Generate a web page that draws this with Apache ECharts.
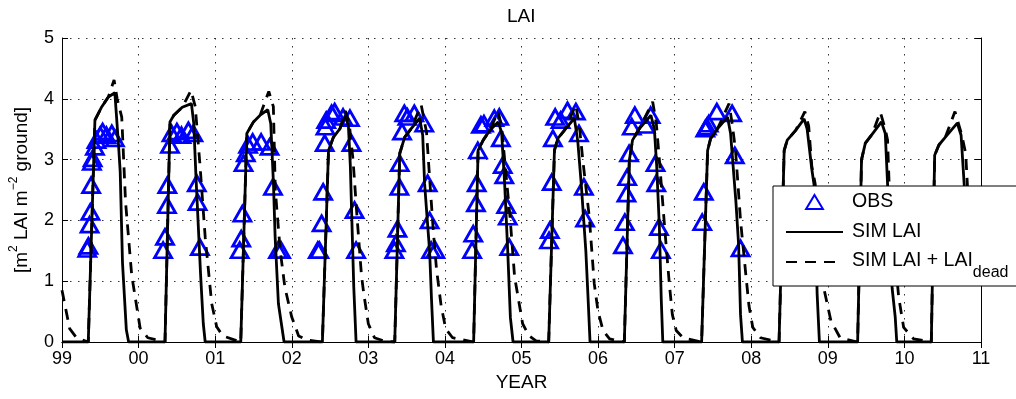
<!DOCTYPE html>
<html>
<head>
<meta charset="utf-8">
<title>LAI</title>
<script src="https://cdn.jsdelivr.net/npm/echarts@6/dist/echarts.min.js"></script>
<style>
  html, body { margin: 0; padding: 0; background: #fff; }
  #main { width: 1016px; height: 399px; }
</style>
</head>
<body>
<div id="main"></div>
<script>
// x is the decimal year, ticks labelled 99, 00 ... 11
var yearMin = 1999, yearMax = 2011;
var laiMin = 0, laiMax = 5;

// observed LAI (blue triangles), [year, LAI]
var obs = [
  [1999.33,1.53],[1999.345,1.58],[1999.36,1.93],[1999.37,2.14],[1999.38,2.58],[1999.39,2.96],[1999.40,3.02],
  [1999.43,3.21],[1999.45,3.32],[1999.50,3.40],[1999.53,3.46],[1999.58,3.40],[1999.65,3.43],[1999.69,3.35],
  [2000.32,1.51],[2000.345,1.73],[2000.37,2.25],[2000.375,2.58],[2000.41,3.24],[2000.43,3.43],[2000.50,3.46],
  [2000.56,3.40],[2000.65,3.48],[2000.715,3.43],[2000.76,2.61],[2000.77,2.30],[2000.80,1.56],
  [2001.32,1.51],[2001.34,1.70],[2001.355,2.11],[2001.37,2.94],[2001.40,3.10],[2001.43,3.24],[2001.49,3.29],
  [2001.60,3.29],[2001.71,3.21],[2001.755,2.55],[2001.82,1.51],[2001.86,1.51],
  [2002.34,1.51],[2002.36,1.51],[2002.39,1.95],[2002.41,2.47],[2002.43,3.27],[2002.44,3.54],[2002.45,3.65],
  [2002.52,3.76],[2002.56,3.79],[2002.67,3.70],[2002.76,3.68],[2002.78,3.27],[2002.82,2.17],[2002.84,1.51],
  [2003.34,1.51],[2003.36,1.62],[2003.38,1.86],[2003.405,2.55],[2003.41,2.94],[2003.44,3.46],[2003.47,3.76],
  [2003.51,3.70],[2003.60,3.76],[2003.73,3.59],[2003.775,2.61],[2003.80,2.00],[2003.82,1.51],[2003.875,1.51],
  [2004.355,1.51],[2004.37,1.78],[2004.405,2.28],[2004.415,2.61],[2004.43,3.15],[2004.47,3.57],[2004.51,3.59],
  [2004.645,3.68],[2004.71,3.70],[2004.73,3.35],[2004.755,2.91],[2004.775,2.74],[2004.80,2.25],[2004.82,2.06],[2004.84,1.56],
  [2005.36,1.67],[2005.37,1.84],[2005.395,2.63],[2005.41,3.35],[2005.44,3.70],[2005.51,3.65],[2005.60,3.81],
  [2005.71,3.79],[2005.75,3.43],[2005.815,2.55],[2005.83,2.03],
  [2006.325,1.59],[2006.35,1.97],[2006.37,2.44],[2006.38,2.71],[2006.405,3.10],[2006.44,3.54],[2006.48,3.73],
  [2006.62,3.57],[2006.687,3.73],[2006.75,2.94],[2006.76,2.61],[2006.795,1.89],[2006.82,1.51],
  [2007.36,1.97],[2007.38,2.47],[2007.40,3.51],[2007.42,3.54],[2007.445,3.59],[2007.55,3.79],[2007.75,3.76],
  [2007.785,3.07],[2007.86,1.54]
];

// simulated LAI (solid line)
var simLai = [
  [1999.0,0],[1999.343,0],[1999.43,3.65],[1999.52,3.87],[1999.605,4.03],[1999.69,4.10],[1999.74,3.2],[1999.76,2.8],[1999.79,1.3],[1999.84,0.2],[1999.87,0],
  [2000.345,0],[2000.41,3.62],[2000.46,3.73],[2000.57,3.86],[2000.69,3.92],[2000.72,3.6],[2000.75,2.7],[2000.81,1.1],[2000.845,0.3],[2000.87,0],
  [2001.334,0],[2001.413,3.43],[2001.50,3.62],[2001.587,3.73],[2001.687,3.82],[2001.726,3.59],[2001.761,2.61],[2001.783,1.73],[2001.826,0.63],[2001.90,0],
  [2002.40,0],[2002.48,3.15],[2002.545,3.37],[2002.63,3.51],[2002.70,3.73],[2002.74,3.55],[2002.765,2.9],[2002.785,2.0],[2002.81,0.9],[2002.84,0],
  [2003.345,0],[2003.41,3.1],[2003.475,3.37],[2003.56,3.51],[2003.67,3.68],[2003.71,3.4],[2003.735,2.6],[2003.77,2.0],[2003.80,1.5],[2003.825,0.7],[2003.85,0],
  [2004.375,0],[2004.433,3.15],[2004.50,3.32],[2004.585,3.48],[2004.695,3.62],[2004.74,3.45],[2004.78,2.6],[2004.82,1.5],[2004.855,0.4],[2004.89,0],
  [2005.355,0],[2005.43,3.15],[2005.475,3.35],[2005.56,3.48],[2005.69,3.68],[2005.735,3.3],[2005.78,2.6],[2005.84,1.5],[2005.87,0.7],[2005.895,0],
  [2006.343,0],[2006.408,2.99],[2006.45,3.32],[2006.54,3.51],[2006.69,3.73],[2006.735,3.5],[2006.765,2.9],[2006.80,1.9],[2006.825,0.7],[2006.845,0],
  [2007.352,0],[2007.43,3.15],[2007.47,3.35],[2007.56,3.51],[2007.69,3.70],[2007.73,3.43],[2007.80,2.3],[2007.835,1.6],[2007.86,0.45],[2007.885,0],
  [2008.363,0],[2008.43,3.15],[2008.47,3.32],[2008.58,3.48],[2008.69,3.67],[2008.73,3.5],[2008.79,2.85],[2008.83,2.5],[2008.86,0.8],[2008.89,0],
  [2009.389,0],[2009.44,3.0],[2009.49,3.27],[2009.58,3.42],[2009.70,3.62],[2009.75,3.43],[2009.78,2.6],[2009.81,1.7],[2009.84,0.88],[2009.88,0.41],[2009.90,0],
  [2010.351,0],[2010.395,3.07],[2010.45,3.24],[2010.535,3.37],[2010.69,3.60],[2010.74,3.4],[2010.78,2.6],[2010.80,2.2]
];

// simulated LAI + dead LAI (dashed line)
var simLaiDead = [
  [1999.0,0.85],[1999.1,0.22],[1999.19,0.07],[1999.343,0],[1999.43,3.65],[1999.52,3.87],[1999.605,4.03],[1999.68,4.31],[1999.72,4.0],[1999.78,3.7],[1999.83,2.3],[1999.91,1.1],[2000.02,0.23],[2000.12,0.07],
  [2000.345,0],[2000.41,3.62],[2000.46,3.73],[2000.57,3.86],[2000.685,4.14],[2000.74,3.87],[2000.80,2.94],[2000.87,1.72],[2000.955,0.63],[2001.02,0.25],[2001.1,0.1],
  [2001.334,0],[2001.413,3.43],[2001.50,3.62],[2001.587,3.73],[2001.65,3.95],[2001.70,4.12],[2001.76,3.87],[2001.785,2.5],[2001.85,1.5],[2001.91,0.9],[2002.0,0.41],[2002.09,0.1],[2002.2,0.03],
  [2002.40,0],[2002.48,3.15],[2002.545,3.37],[2002.63,3.51],[2002.70,3.80],[2002.75,3.6],[2002.80,3.0],[2002.85,2.1],[2002.91,1.1],[2002.94,0.8],[2003.0,0.3],[2003.08,0.07],[2003.2,0.02],
  [2003.345,0],[2003.41,3.1],[2003.475,3.37],[2003.56,3.51],[2003.69,3.9],[2003.76,3.45],[2003.80,2.7],[2003.85,1.8],[2003.89,1.2],[2003.95,0.6],[2004.01,0.22],[2004.1,0.07],
  [2004.375,0],[2004.433,3.15],[2004.50,3.32],[2004.585,3.48],[2004.695,3.79],[2004.74,3.55],[2004.78,3.0],[2004.85,2.06],[2004.91,1.07],[2004.97,0.63],[2005.015,0.3],[2005.10,0.1],[2005.19,0.02],
  [2005.355,0],[2005.43,3.15],[2005.475,3.35],[2005.56,3.48],[2005.71,3.9],[2005.76,3.5],[2005.80,3.0],[2005.885,2.06],[2005.95,0.96],[2006.0,0.5],[2006.065,0.19],[2006.15,0.05],
  [2006.343,0],[2006.408,2.99],[2006.45,3.32],[2006.54,3.51],[2006.713,3.95],[2006.76,3.6],[2006.80,3.0],[2006.865,1.95],[2006.93,0.96],[2006.97,0.45],[2007.02,0.19],[2007.11,0.07],
  [2007.352,0],[2007.43,3.15],[2007.47,3.35],[2007.56,3.51],[2007.71,3.92],[2007.75,3.6],[2007.795,3.15],[2007.86,2.0],[2007.93,1.1],[2007.97,0.6],[2008.02,0.24],[2008.12,0.07],
  [2008.363,0],[2008.43,3.15],[2008.47,3.32],[2008.58,3.48],[2008.70,3.79],[2008.75,3.55],[2008.79,2.9],[2008.835,2.6],[2008.90,1.5],[2008.945,0.9],[2009.04,0.35],[2009.16,0.07],
  [2009.389,0],[2009.44,3.0],[2009.49,3.27],[2009.58,3.42],[2009.685,3.78],[2009.75,3.5],[2009.78,3.32],[2009.80,2.61],[2009.87,1.5],[2009.925,0.74],[2009.99,0.24],[2010.12,0.05],
  [2010.351,0],[2010.395,3.07],[2010.45,3.24],[2010.535,3.37],[2010.66,3.79],[2010.75,3.4],[2010.80,3.1],[2010.83,2.4]
];

var font = 'Liberation Sans, Arial, Helvetica, sans-serif';
var triPath = 'path://M9,0L18,15L0,15Z';

var myChart = echarts.init(document.getElementById('main'), null, { renderer: 'canvas' });

function yearLabel(v) {
  var y = Math.round(v) % 100;
  return (y < 10 ? '0' : '') + y;
}

var gridLine = { show: true, lineStyle: { color: '#333', width: 1, type: [1.5, 6.5] } };
// line series: no visible symbol, also not in the legend icon
var noMark = { color: 'rgba(0,0,0,0)', borderWidth: 0, borderColor: 'rgba(0,0,0,0)' };

myChart.setOption({
  animation: false,
  backgroundColor: '#fff',
  title: {
    text: 'LAI', left: 507, top: 7, padding: 0,
    textStyle: { fontFamily: font, fontSize: 19, fontWeight: 'normal', color: '#000' }
  },
  grid: { left: 61, right: 35, top: 38, bottom: 57 },
  legend: {
    orient: 'vertical', left: 773, top: 186,
    padding: [5, 14, 5, 12], itemGap: 8, itemWidth: 57, itemHeight: 14,
    backgroundColor: '#fff', borderColor: '#000', borderWidth: 1, borderRadius: 0,
    selectedMode: false,
    data: ['OBS', 'SIM LAI', 'SIM LAI + LAI_dead'],
    formatter: function (name) {
      return name === 'SIM LAI + LAI_dead' ? '{m|SIM LAI + LAI}{sub|dead}' : name;
    },
    textStyle: {
      fontFamily: font, fontSize: 19.5, color: '#000', lineHeight: 22, padding: [0, 0, 0, 4],
      rich: {
        m: { fontFamily: font, fontSize: 19.5, lineHeight: 22, verticalAlign: 'top', color: '#000' },
        sub: { fontFamily: font, fontSize: 16, lineHeight: 16, verticalAlign: 'top', padding: [14, 0, 0, 0], color: '#000' }
      }
    }
  },
  xAxis: [{
    type: 'value', min: yearMin, max: yearMax, interval: 1,
    name: 'YEAR', nameLocation: 'middle', nameGap: 31,
    nameTextStyle: { fontFamily: font, fontSize: 19, color: '#000' },
    axisLine: { lineStyle: { color: '#000', width: 1 } },
    axisTick: { inside: true, length: 6, lineStyle: { color: '#000' } },
    axisLabel: { formatter: yearLabel, fontFamily: font, fontSize: 18, color: '#000', margin: 8 },
    splitLine: gridLine
  }, {
    type: 'value', position: 'top', min: yearMin, max: yearMax, interval: 1,
    axisLine: { show: true, lineStyle: { color: '#000', width: 1 } },
    axisTick: { inside: true, length: 6, lineStyle: { color: '#000' } },
    axisLabel: { show: false }, splitLine: { show: false }
  }],
  yAxis: [{
    type: 'value', min: laiMin, max: laiMax, interval: 1,
    name: '[m{sup|2} LAI m{sup|−2} ground]', nameLocation: 'middle', nameGap: 27,
    nameTextStyle: {
      fontFamily: font, fontSize: 19, color: '#000',
      rich: {
        sup: { fontFamily: font, fontSize: 12, verticalAlign: 'bottom', padding: [0, 0, 15, 0], color: '#000' }
      }
    },
    axisLine: { show: true, lineStyle: { color: '#000', width: 1 } },
    axisTick: { show: true, inside: true, length: 6, lineStyle: { color: '#000' } },
    axisLabel: { fontFamily: font, fontSize: 18, color: '#000', margin: 8 },
    splitLine: gridLine
  }, {
    type: 'value', position: 'right', min: laiMin, max: laiMax, interval: 1,
    axisLine: { show: true, lineStyle: { color: '#000', width: 1 } },
    axisTick: { show: true, inside: true, length: 6, lineStyle: { color: '#000' } },
    axisLabel: { show: false }, splitLine: { show: false }
  }],
  series: [{
    name: 'OBS', type: 'scatter', data: obs,
    symbol: triPath, symbolSize: [17, 15],
    itemStyle: { color: 'rgba(0,0,0,0)', borderColor: '#0000ff', borderWidth: 2.8, opacity: 1 }
  }, {
    name: 'SIM LAI', type: 'line', data: simLai, symbol: 'circle', showSymbol: false,
    lineStyle: { color: '#000', width: 2.8 }, itemStyle: noMark
  }, {
    name: 'SIM LAI + LAI_dead', type: 'line', data: simLaiDead, symbol: 'circle', showSymbol: false,
    lineStyle: { color: '#000', width: 2.8, type: [11, 8] }, itemStyle: noMark
  }]
});
</script>
</body>
</html>
